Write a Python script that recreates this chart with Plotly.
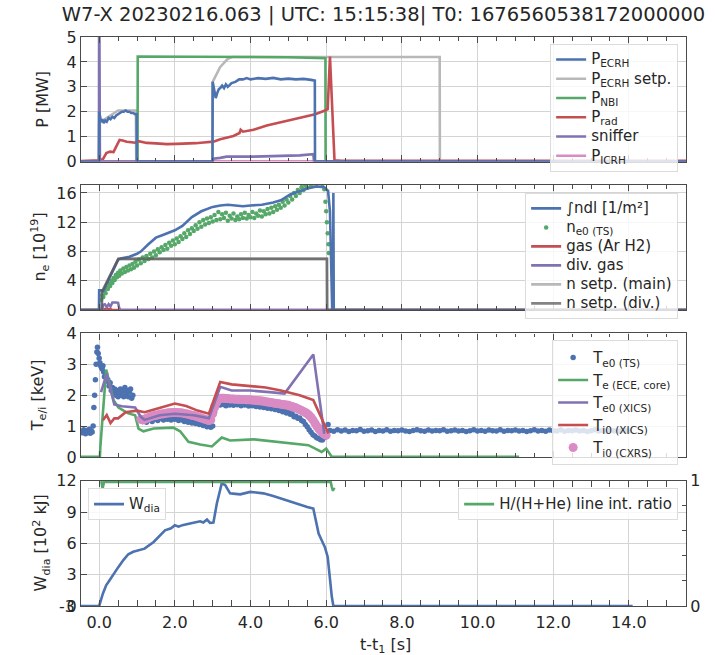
import numpy as np
import plotly.graph_objects as go

# ---------------- data ----------------
# Panel 1: heating powers [MW]
t_ecrh = [-0.48, -0.005, 0.0, 0.02, 0.05, 0.08, 0.12, 0.16, 0.2, 0.25, 0.3, 0.35, 0.4, 0.45, 0.5, 0.55, 0.6, 0.65, 0.7, 0.75, 0.8, 0.85, 0.9, 0.95, 0.99, 0.995,
          2.995, 3.0, 3.02, 3.05, 3.08, 3.12, 3.16, 3.2, 3.25, 3.3, 3.35, 3.4, 3.5, 3.6, 3.7, 3.8, 3.9, 4.0, 4.2, 4.4, 4.6, 4.8, 5.0, 5.2, 5.4, 5.6, 5.7, 5.705, 15.51]
p_ecrh = [0, 0, 2.0, 1.8, 1.6, 1.7, 1.55, 1.65, 1.6, 1.75, 1.7, 1.8, 1.75, 1.85, 1.9, 1.95, 2.0, 2.0, 2.05, 2.0, 2.0, 1.95, 1.95, 1.9, 1.9, 0,
          0, 3.2, 3.0, 2.7, 2.55, 2.75, 2.9, 2.95, 3.05, 2.95, 3.1, 3.0, 3.15, 3.2, 3.3, 3.3, 3.35, 3.3, 3.35, 3.32, 3.36, 3.3, 3.33, 3.3, 3.32, 3.28, 3.25, 0, 0]
t_ecrh_set = [-0.48, -0.005, 0.0, 0.1, 0.2, 0.3, 0.4, 0.5, 0.97, 0.98, 2.995, 3.0, 3.2, 3.4, 3.52, 9.0, 9.005, 15.51]
p_ecrh_set = [0, 0, 1.55, 1.65, 1.75, 1.85, 1.95, 2.05, 2.05, 0, 0, 3.2, 3.8, 4.12, 4.2, 4.2, 0, 0]
t_nbi = [-0.48, 1.015, 1.02, 1.5, 2.0, 2.5, 3.0, 4.0, 5.0, 5.5, 5.98, 5.985, 15.51]
p_nbi = [0, 0, 4.22, 4.22, 4.22, 4.2, 4.2, 4.2, 4.19, 4.17, 4.15, 0, 0]
t_rad = [-0.48, -0.01, 0.0, 0.1, 0.19, 0.29, 0.38, 0.43, 0.54, 0.62, 0.73, 0.85, 0.95, 1.04, 1.26, 1.5, 1.79, 2.05, 2.32, 2.55,
         2.76, 2.9, 3.02, 3.2, 3.4, 3.55, 3.71, 3.74, 3.8, 4.08, 4.43, 4.87, 5.31, 5.71, 5.97, 6.04, 6.1, 6.22, 6.4, 15.51]
p_rad = [0.02, 0.02, 0.05, 0.1, 0.34, 0.4, 0.38, 0.54, 0.87, 0.85, 0.8, 0.78, 0.76, 0.82, 0.75, 0.73, 0.7, 0.71, 0.72, 0.74,
         0.77, 0.78, 0.8, 0.9, 0.97, 1.03, 1.15, 1.28, 1.2, 1.28, 1.45, 1.6, 1.75, 1.9, 2.05, 2.1, 4.22, 0.05, 0.03, 0.03]
t_sniff = [-0.48, -0.005, 0.0, 0.015, 0.02, 3.0, 3.02, 3.2, 3.37, 4.08, 4.87, 5.3, 5.66, 5.68, 15.51]
p_sniff = [0, 0, 8.0, 0.2, 0, 0, 0.12, 0.15, 0.2, 0.2, 0.23, 0.25, 0.3, 0, 0]
t_icrh = [-0.48, 15.51]
p_icrh = [0.01, 0.01]

# Panel 2: density [1e19]
t_ndl = [-0.48, -0.005, 0.0, 0.08, 0.1, 0.2, 0.3, 0.4, 0.5, 0.6, 0.8, 1.0, 1.1, 1.3, 1.5, 1.7, 2.0, 2.2, 2.45, 2.7,
         3.0, 3.2, 3.4, 3.6, 3.8, 4.0, 4.3, 4.6, 4.8, 5.05, 5.3, 5.5, 5.75, 5.95, 6.05, 6.1, 6.16, 6.185, 6.19, 6.2, 15.51]
n_ndl = [0, 0, 2.7, 2.7, 2.5, 3.6, 4.8, 5.9, 6.9, 7.1, 7.3, 7.7, 8.0, 9.0, 9.9, 10.3, 10.9, 11.5, 12.7, 13.5,
         14.1, 14.3, 14.4, 14.3, 14.2, 14.3, 14.4, 14.7, 15.0, 15.8, 16.3, 16.6, 16.9, 16.8, 16.3, 13.5, 0, 0, 16.0, 0, 0]
t_ne_ts = [0.05, 0.08, 0.11, 0.14, 0.17, 0.2, 0.23, 0.26, 0.29, 0.32, 0.35, 0.38, 0.41, 0.44, 0.47, 0.5, 0.53, 0.56, 0.6, 0.64,
           0.68, 0.72, 0.76, 0.8, 0.84, 0.88, 0.92, 0.96, 1.0, 1.05, 1.1, 1.15, 1.2, 1.25, 1.3, 1.35, 1.4, 1.45, 1.5, 1.55,
           1.6, 1.65, 1.7, 1.75, 1.8, 1.85, 1.9, 1.95, 2.0, 2.05, 2.1, 2.15, 2.2, 2.25, 2.3, 2.35, 2.4, 2.45, 2.5, 2.55,
           2.6, 2.65, 2.7, 2.75, 2.8, 2.85, 2.9, 2.95, 3.0, 3.05, 3.1, 3.15, 3.2, 3.25, 3.3, 3.35, 3.4, 3.45, 3.5, 3.55,
           3.6, 3.65, 3.7, 3.75, 3.8, 3.85, 3.9, 3.95, 4.0, 4.05, 4.1, 4.15, 4.2, 4.25, 4.3, 4.35, 4.4, 4.45, 4.5, 4.55,
           4.6, 4.65, 4.7, 4.75, 4.8, 4.85, 4.9, 4.95, 5.0, 5.05, 5.1, 5.15, 5.2, 5.25, 5.3, 5.35, 5.4, 5.45, 5.5, 5.6,
           5.7, 5.8, 5.9, 5.95, 5.98, 6.0, 6.02, 6.04, 6.06, 6.07]
n_ne_ts = [1.4, 2.0, 1.8, 2.6, 2.3, 3.1, 2.9, 3.6, 3.3, 4.0, 3.7, 4.4, 4.1, 4.8, 4.5, 5.1, 4.7, 5.4, 5.0, 5.7,
           5.2, 5.9, 5.4, 6.1, 5.6, 6.3, 5.8, 6.6, 6.1, 6.9, 6.4, 7.2, 6.7, 7.4, 7.0, 7.7, 7.2, 8.0, 7.5, 8.3,
           7.9, 8.6, 8.2, 8.9, 8.4, 9.2, 8.8, 9.5, 9.0, 9.8, 9.3, 10.1, 9.7, 10.5, 10.0, 10.9, 10.4, 11.2, 10.8, 11.6,
           11.1, 12.0, 11.4, 12.3, 11.7, 12.5, 11.9, 12.7, 12.1, 13.0, 12.3, 13.4, 12.4, 13.1, 12.6, 13.3, 12.2, 12.9, 12.5, 13.2,
           12.3, 12.8, 12.4, 13.1, 12.6, 13.3, 12.5, 13.0, 12.7, 13.4, 12.6, 13.2, 12.9, 13.6, 12.8, 13.5, 13.1, 13.8, 13.2, 14.0,
           13.4, 14.2, 13.7, 14.4, 14.0, 14.8, 14.3, 15.1, 14.7, 15.6, 15.1, 16.0, 15.6, 16.4, 16.0, 16.8, 16.4, 17.0, 16.7, 17.0,
           17.3, 17.5, 17.2, 16.5, 14.8, 13.5, 12.0, 10.5, 9.0, 7.8]
t_gas = [-0.48, 0.1, 0.15, 0.3, 0.35, 15.51]
n_gas = [0, 0, 0.15, 0.15, 0, 0]
t_divgas = [-0.48, 0.08, 0.1, 0.15, 0.2, 0.25, 0.3, 0.33, 0.35, 0.45, 0.5, 0.53, 0.56, 15.51]
n_divgas = [0, 0, 0.7, 0.8, 0.4, 0.8, 0.5, 1.0, 1.05, 1.05, 1.0, 0.3, 0, 0]
t_nset = [-0.48, 0.07, 0.075, 0.51, 6.02, 6.025, 15.51]
n_nset_main = [0, 0, 2.5, 7.0, 7.0, 0, 0]
n_nset_div = [0, 0, 2.5, 7.0, 7.0, 0, 0]

# Panel 3: temperatures [keV]
t_te_ts_a = [-0.46, -0.435, -0.41, -0.385, -0.36, -0.335, -0.31, -0.285, -0.26, -0.235, -0.21, -0.185,
             -0.16, -0.14, -0.12, -0.1, -0.08, -0.06, -0.045, -0.025, 0.0, 0.02, 0.04, 0.06, 0.08, 0.1, 0.12, 0.14,
             0.17, 0.2, 0.23, 0.26, 0.29, 0.32, 0.35, 0.38, 0.41, 0.44, 0.47, 0.5,
             0.53, 0.56, 0.59, 0.62, 0.65, 0.68, 0.71, 0.74, 0.77, 0.8, 0.83, 0.86, 0.89]
te_ts_a = [0.82, 0.78, 0.88, 0.80, 0.75, 0.86, 0.83, 0.79, 0.90, 0.77, 0.85, 0.81,
           1.0, 1.6, 2.0, 2.5, 3.0, 3.4, 3.55, 3.35, 3.2, 3.05, 2.95, 2.9, 2.85, 2.95, 2.75, 2.6,
           2.7, 2.45, 2.5, 2.3, 2.4, 2.15, 2.25, 2.05, 2.2, 2.0, 2.15, 1.95,
           2.1, 2.2, 2.0, 2.15, 1.95, 2.25, 2.05, 2.15, 1.95, 2.1, 2.2, 1.9, 2.0]
t_te_ts_b = np.linspace(1.1, 2.95, 38)
te_ts_b = [1.2, 1.15, 1.22, 1.12, 1.2, 1.25, 1.15, 1.22, 1.28, 1.18, 1.25, 1.3, 1.2, 1.27, 1.22, 1.3, 1.2, 1.26, 1.22, 1.28,
           1.18, 1.24, 1.2, 1.15, 1.22, 1.12, 1.18, 1.1, 1.15, 1.08, 1.12, 1.05, 1.1, 1.02, 1.06, 0.98, 1.02, 0.96]
t_te_ts_c = np.linspace(3.0, 6.05, 62)
te_ts_c = [1.0, 1.45, 1.65, 1.72, 1.68, 1.75, 1.7, 1.66, 1.73, 1.68,
           1.74, 1.67, 1.72, 1.69, 1.75, 1.66, 1.71, 1.68, 1.73, 1.65,
           1.7, 1.66, 1.69, 1.63, 1.68, 1.62, 1.66, 1.6, 1.64, 1.58,
           1.62, 1.56, 1.6, 1.54, 1.57, 1.5, 1.54, 1.46, 1.5, 1.42,
           1.45, 1.38, 1.4, 1.3, 1.32, 1.25, 1.26, 1.18, 1.15, 1.05,
           0.98, 0.88, 0.8, 0.72, 0.68, 0.62, 0.6, 0.56, 0.55, 0.62,
           0.78, 1.05]
t_te_ts_d = np.linspace(6.1, 14.0, 80)
te_ts_d = [0.86, 0.83, 0.88, 0.84, 0.87, 0.82, 0.86, 0.85, 0.89, 0.83,
           0.85, 0.87, 0.82, 0.86, 0.84, 0.88, 0.83, 0.86, 0.85, 0.87,
           0.84, 0.82, 0.86, 0.88, 0.85, 0.83, 0.87, 0.84, 0.86, 0.85,
           0.88, 0.83, 0.85, 0.87, 0.84, 0.86, 0.82, 0.85, 0.88, 0.84,
           0.86, 0.83, 0.87, 0.85, 0.84, 0.88, 0.83, 0.86, 0.85, 0.87,
           0.84, 0.86, 0.82, 0.85, 0.88, 0.84, 0.86, 0.83, 0.87, 0.85,
           0.84, 0.88, 0.83, 0.86, 0.85, 0.87, 0.84, 0.86, 0.82, 0.85,
           0.88, 0.84, 0.86, 0.83, 0.87, 0.85, 0.84, 0.86, 0.85, 0.84]
t_ece = [-0.48, 0.02, 0.03, 0.185, 0.38, 0.51, 0.77, 0.95, 1.04, 1.17, 1.44, 1.96, 2.14, 2.36, 2.67, 2.98, 3.24, 3.46, 4.08, 4.87, 5.53, 5.71, 5.88, 6.0, 6.15, 11.1]
te_ece = [0, 0, 0.3, 2.83, 1.84, 1.6, 1.41, 1.35, 0.92, 0.83, 0.92, 0.95, 0.83, 0.49, 0.4, 0.34, 0.63, 0.53, 0.57, 0.47, 0.38, 0.27, 0.16, 0.27, 0, 0]
t_xics_te = [0.05, 0.2, 0.4, 0.6, 0.95, 1.1, 1.2, 1.6, 2.0, 2.5, 2.9, 3.2, 3.5, 4.0, 4.5, 4.9, 5.66, 5.95]
te_xics = [2.1, 2.7, 1.7, 1.64, 1.6, 1.3, 1.2, 1.35, 1.4, 1.35, 1.25, 2.27, 2.15, 2.15, 2.1, 2.05, 3.32, 0.75]
t_xics_ti = [0.1, 0.2, 0.3, 0.4, 0.5, 0.7, 1.0, 1.2, 1.5, 2.0, 2.3, 2.6, 2.9, 3.2, 3.5, 4.0, 4.4, 4.8, 5.3, 5.66, 6.06]
ti_xics = [1.19, 1.36, 1.1, 1.25, 1.25, 1.45, 1.5, 1.45, 1.55, 1.73, 1.65, 1.5, 1.4, 2.43, 2.35, 2.3, 2.25, 2.15, 2.0, 1.84, 0.76]
t_cxrs = np.linspace(1.1, 6.0, 99)
ti_cxrs = [1.22, 1.2, 1.22, 1.25, 1.27, 1.3, 1.32, 1.33,
           1.35, 1.36, 1.38, 1.39, 1.4, 1.41, 1.42, 1.43,
           1.43, 1.44, 1.44, 1.44, 1.43, 1.43, 1.42, 1.41,
           1.4, 1.38, 1.37, 1.35, 1.34, 1.32, 1.3, 1.28,
           1.26, 1.24, 1.22, 1.2, 1.18, 1.2,
           1.4, 1.6, 1.75, 1.85, 1.9, 1.9, 1.9, 1.89, 1.89, 1.88,
           1.88, 1.88, 1.87, 1.87, 1.87, 1.86, 1.86, 1.86, 1.85, 1.85,
           1.85, 1.84, 1.84, 1.83, 1.82, 1.82, 1.81, 1.8, 1.79, 1.78,
           1.77, 1.76, 1.75, 1.74, 1.73, 1.72, 1.71, 1.7, 1.69, 1.68,
           1.67, 1.65, 1.63, 1.61, 1.59, 1.56, 1.53, 1.5, 1.47, 1.44,
           1.4, 1.35, 1.28, 1.2, 1.1, 1.0, 0.92, 0.85, 0.78, 0.73,
           0.7]

# Panel 4: diamagnetic energy [1e2 kJ] and H/(H+He) ratio
t_wdia = [-0.48, 0.0, 0.1, 0.185, 0.28, 0.38, 0.51, 0.64, 0.77, 0.9, 1.08, 1.2, 1.44, 1.6, 1.74, 1.9, 2.0, 2.1, 2.2, 2.4,
          2.5, 2.67, 2.75, 2.85, 2.93, 3.02, 3.11, 3.24, 3.33, 3.46, 3.6, 3.73, 3.99, 4.34, 4.6, 4.87, 5.1, 5.31, 5.5, 5.66,
          5.8, 5.97, 6.04, 6.15, 6.19, 14.1]
w_dia = [0, 0, 1.2, 1.99, 2.5, 3.1, 3.75, 4.4, 4.96, 5.2, 5.41, 5.5, 6.14, 6.7, 7.26, 7.45, 7.74, 7.6, 7.75, 7.9,
         8.0, 8.12, 8.0, 8.28, 7.96, 8.0, 9.82, 11.75, 11.6, 10.8, 10.75, 10.7, 10.94, 10.8, 10.55, 10.24, 9.95, 9.66, 9.5, 9.34,
         6.95, 5.6, 4.7, 0.86, 0, 0]
t_hratio = [0.03, 0.06, 0.09, 0.11, 0.13, 0.16, 0.5, 1.0, 2.0, 3.0, 4.0, 5.0, 6.0, 6.12, 6.15, 6.18, 6.2, 6.22]
h_ratio = [0.99, 0.99, 0.94, 0.96, 0.99, 0.99, 0.99, 0.99, 0.99, 0.99, 0.99, 0.99, 0.99, 0.99, 0.95, 0.92, 0.94, 0.93]

x_ticks = [0, 2, 4, 6, 8, 10, 12, 14]

# ---------------- style ----------------
BLUE, GREEN, RED, PURPLE = "#4C72B0", "#55A868", "#C44E52", "#8172B2"
LGRAY, DGRAY, PINK = "#b8b8b8", "rgba(90,90,90,0.75)", "#DA8BC3"
FONT = "DejaVu Sans"
TXT = "#262626"
LW = 2.6

fig = go.Figure()

def lab(s):
    return f"<span style='font-size:15px'>{s}</span>"

def line(x, y, name, color, xa, ya, leg, rank, width=LW):
    fig.add_trace(go.Scatter(x=x, y=y, name=lab(name), mode="lines", xaxis=xa, yaxis=ya, legend=leg, legendrank=rank,
                             line=dict(color=color, width=width)))

def dots(x, y, name, color, xa, ya, leg, rank, size=4):
    fig.add_trace(go.Scatter(x=x, y=y, name=lab(name), mode="markers", xaxis=xa, yaxis=ya, legend=leg, legendrank=rank,
                             marker=dict(color=color, size=size, line=dict(width=0))))

# Panel 1
line(t_ecrh_set, p_ecrh_set, "P<sub>ECRH</sub> setp.", LGRAY, "x", "y", "legend", 2)
line(t_nbi, p_nbi, "P<sub>NBI</sub>", GREEN, "x", "y", "legend", 3)
line(t_rad, p_rad, "P<sub>rad</sub>", RED, "x", "y", "legend", 4)
line(t_icrh, p_icrh, "P<sub>ICRH</sub>", PINK, "x", "y", "legend", 6)
line(t_sniff, p_sniff, "sniffer", PURPLE, "x", "y", "legend", 5)
line(t_ecrh, p_ecrh, "P<sub>ECRH</sub>", BLUE, "x", "y", "legend", 1)

# Panel 2
line(t_nset, n_nset_main, "n setp. (main)", LGRAY, "x2", "y2", "legend2", 5)
line(t_gas, n_gas, "gas (Ar H2)", RED, "x2", "y2", "legend2", 3)
line(t_divgas, n_divgas, "div. gas", PURPLE, "x2", "y2", "legend2", 4)
dots(t_ne_ts, n_ne_ts, "n<sub>e0 (TS)</sub>", GREEN, "x2", "y2", "legend2", 2, size=4.5)
line(t_ndl, n_ndl, "∫ndl [1/m²]", BLUE, "x2", "y2", "legend2", 1)
line(t_nset, n_nset_div, "n setp. (div.)", DGRAY, "x2", "y2", "legend2", 6)

# Panel 3
t_te_ts = list(t_te_ts_a) + list(t_te_ts_b) + list(t_te_ts_c) + list(t_te_ts_d)
te_ts = list(te_ts_a) + list(te_ts_b) + list(te_ts_c) + list(te_ts_d)
dots(t_te_ts, te_ts, "T<sub>e0 (TS)</sub>", BLUE, "x3", "y3", "legend3", 1, size=5.5)
line(t_ece, te_ece, "T<sub>e (ECE, core)</sub>", GREEN, "x3", "y3", "legend3", 2)
dots(t_cxrs, ti_cxrs, "T<sub>i0 (CXRS)</sub>", PINK, "x3", "y3", "legend3", 5, size=9)
line(t_xics_te, te_xics, "T<sub>e0 (XICS)</sub>", PURPLE, "x3", "y3", "legend3", 3)
line(t_xics_ti, ti_xics, "T<sub>i0 (XICS)</sub>", RED, "x3", "y3", "legend3", 4)

# Panel 4
line(t_wdia, w_dia, "W<sub>dia</sub>", BLUE, "x4", "y4", "legend4", 1)
line(t_hratio, h_ratio, "H/(H+He) line int. ratio", GREEN, "x4", "y5", "legend5", 1)

AX = "#4a4a4a"
GRID = "#d4d4d4"
XR = [-0.48, 15.51]

def xax(show_labels, anchor):
    return dict(range=XR, anchor=anchor, showline=True, linecolor=AX, linewidth=1.3, mirror="allticks",
                ticks="inside", ticklen=6, tickwidth=1.2, tickcolor=AX,
                tickmode="array", tickvals=x_ticks, ticktext=[f"{v:.1f}" for v in x_ticks],
                showticklabels=show_labels, ticklabelstandoff=2,
                showgrid=True, gridcolor=GRID, gridwidth=1, zeroline=False,
                minor=dict(dtick=0.5, tick0=0, ticks="inside", ticklen=3.5, tickwidth=1, tickcolor=AX, showgrid=False),
                tickfont=dict(family=FONT, size=16, color=TXT))

def yax(domain, rng, tickvals, anchor):
    return dict(domain=domain, range=rng, anchor=anchor, showline=True, linecolor=AX, linewidth=1.3, mirror=True,
                ticks="inside", ticklen=6, tickwidth=1.2, tickcolor=AX, tickmode="array", tickvals=tickvals,
                showgrid=True, gridcolor=GRID, gridwidth=1, zeroline=False,
                tickfont=dict(family=FONT, size=16, color=TXT))

leg_common = dict(bgcolor="rgba(255,255,255,0.8)", bordercolor="#dcdcdc", borderwidth=1,
                  font=dict(family=FONT, size=12.5, color=TXT), itemwidth=30, tracegroupgap=0,
                  xanchor="right", yanchor="top")

doms = {"y": [0.781, 1.0], "y2": [0.520, 0.740], "y3": [0.262, 0.479], "y4": [0.0, 0.220]}

fig.update_layout(
    width=715, height=655,
    margin=dict(l=81, r=29, t=37, b=49),
    paper_bgcolor="white", plot_bgcolor="white",
    font=dict(family=FONT, color=TXT),
    title=dict(text="W7-X 20230216.063 | UTC: 15:15:38| T0: 1676560538172000000",
               x=0.5, xref="paper", xanchor="center", y=1 - 14 / 655, yref="container", yanchor="middle",
               font=dict(family=FONT, size=19.5, color=TXT)),
    xaxis=xax(False, "y"),
    xaxis2=xax(False, "y2"),
    xaxis3=xax(False, "y3"),
    xaxis4=xax(True, "y4"),
    yaxis=yax(doms["y"], [0, 5], [0, 1, 2, 3, 4, 5], "x"),
    yaxis2=yax(doms["y2"], [0, 17.1], [0, 4, 8, 12, 16], "x2"),
    yaxis3=yax(doms["y3"], [0, 4], [0, 1, 2, 3, 4], "x3"),
    yaxis4=yax(doms["y4"], [0, 12], [0, 3, 6, 9, 12], "x4"),
    yaxis5=dict(overlaying="y4", side="right", anchor="x4", range=[0, 1], showgrid=False, zeroline=False,
                ticks="inside", ticklen=6, tickwidth=1.2, tickcolor=AX, tickmode="array", tickvals=[0, 1],
                showline=True, linecolor=AX, linewidth=1.3,
                minor=dict(tickvals=[0.2, 0.4, 0.6, 0.8], ticks="inside", ticklen=4, tickwidth=1, tickcolor=AX, showgrid=False),
                tickfont=dict(family=FONT, size=16, color=TXT)),
    legend=dict(leg_common, x=0.987, y=0.988),
    legend2=dict(leg_common, x=0.987, y=0.726, font=dict(family=FONT, size=11.5, color=TXT)),
    legend3=dict(leg_common, x=0.987, y=0.467, font=dict(family=FONT, size=15, color=TXT)),
    legend4=dict(leg_common, x=0.0116, y=0.207, xanchor="left", font=dict(family=FONT, size=13, color=TXT)),
    legend5=dict(leg_common, x=0.987, y=0.207, font=dict(family=FONT, size=13, color=TXT)),
    showlegend=True,
)

# y-axis titles (rotated), placed like the reference
ytitles = [("y", "P [MW]", 42.5), ("y2", "n<sub>e</sub> [10<sup>19</sup>]", 40),
           ("y3", "T<sub>e/i</sub> [keV]", 38), ("y4", "W<sub>dia</sub> [10<sup>2</sup> kJ]", 41)]
for ax, txt, xpx in ytitles:
    d = doms[ax]
    fig.add_annotation(text=txt, textangle=-90, xref="paper", x=(xpx - 81) / 605, xanchor="center",
                       yref="paper", y=(d[0] + d[1]) / 2, yanchor="middle", showarrow=False,
                       font=dict(family=FONT, size=16, color=TXT))

# x-axis title
fig.add_annotation(text="t-t<sub>1</sub> [s]", xref="paper", x=(385 - 81) / 605, xanchor="center",
                   yref="paper", y=(605.7 - 645) / 568.4, yanchor="middle", showarrow=False,
                   font=dict(family=FONT, size=16, color=TXT))

# overlapping "-3" label at the bottom of the W_dia axis (as in the reference)
fig.add_annotation(text="-3", xref="paper", x=-0.0066, xanchor="right", yref="y4", y=0, yanchor="middle",
                   showarrow=False, font=dict(family=FONT, size=16, color=TXT))

fig.write_html("out.html")
